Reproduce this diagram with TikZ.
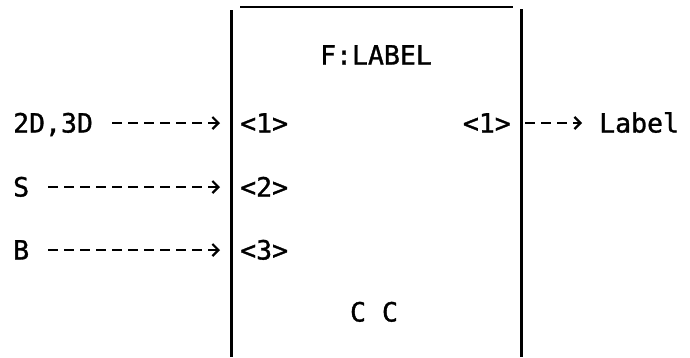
\documentclass[tikz,border=0pt]{standalone}
\usepackage{fontspec}
\setmonofont{DejaVu Sans Mono}[BoldFont=DejaVu Sans Mono,BoldFeatures={FakeBold=1.2}]
\usetikzlibrary{arrows.meta}

\begin{document}
\begin{tikzpicture}[x=1pt,y=1pt,
    txt/.style={inner sep=0pt,text height=19pt,text depth=0pt,
                font=\fontsize{26.5pt}{30pt}\selectfont\ttfamily\bfseries},
    flow/.style={line width=2.4pt,dash pattern=on 10pt off 6pt,
                 -{Straight Barb[length=6pt,width=12pt,line width=2.2pt]}}]
  \useasboundingbox (0,0) rectangle (690,-357);
  % block outline
  \coordinate (lside) at (231,-10);
  \coordinate (rside) at (521,-9);
  \draw[line width=3pt] (lside) -- (lside |- 0,-357);
  \draw[line width=3pt] (rside) -- (rside |- 0,-357);
  \draw[line width=2.4pt] (240,-7) -- (513,-7);
  \node[txt] (name) at (376,-55) {F:LABEL};
  \node[txt] (cc) at (374,-312) {C C};
  % inputs
  \node[txt,anchor=west] (in1) at (13,-123) {2D,3D};
  \node[txt,anchor=west] (in2) at (13,-187) {S};
  \node[txt,anchor=west] (in3) at (13,-250) {B};
  \node[txt,anchor=west] (p1) at (240,-123) {<1>};
  \node[txt,anchor=west] (p2) at (240,-187) {<2>};
  \node[txt,anchor=west] (p3) at (240,-250) {<3>};
  \draw[flow,shorten <=19pt,shorten >=11pt] (in1.east) -- (in1.east -| lside);
  \draw[flow,shorten <=19pt,shorten >=11pt] (in2.east) -- (in2.east -| lside);
  \draw[flow,shorten <=19pt,shorten >=11pt] (in3.east) -- (in3.east -| lside);
  % output
  \node[txt,anchor=east] (q1) at (511,-123) {<1>};
  \node[txt,anchor=west] (out1) at (599,-123) {Label};
  \draw[flow,shorten <=4pt,shorten >=17pt] (q1.east -| rside) -- (out1.west);
\end{tikzpicture}
\end{document}
